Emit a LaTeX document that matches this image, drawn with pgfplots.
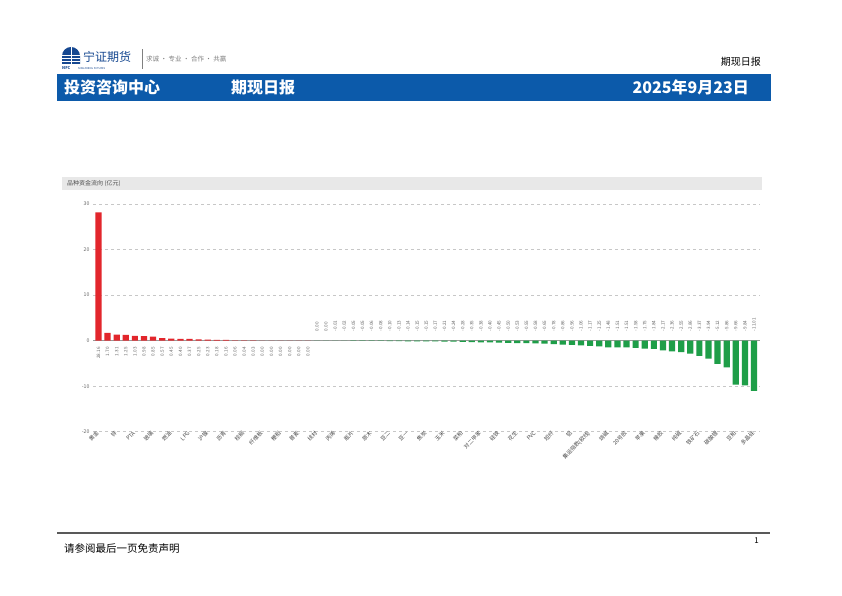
\documentclass[border=0pt]{standalone}
\usepackage{pgfplots}
\pgfplotsset{compat=1.18}
\usepackage{pgfplotstable}
\usepackage{fontspec}
\setmainfont{Noto Sans CJK SC}
\definecolor{bannerblue}{RGB}{12,90,170}
\definecolor{barred}{RGB}{226,38,44}
\definecolor{bargreen}{RGB}{30,158,72}
\definecolor{logoblue}{RGB}{22,72,145}

\pgfplotstableread{
idx val zero lab
0 28.16 0 28.16
1 1.70 0 1.70
2 1.31 0 1.31
3 1.25 0 1.25
4 1.03 0 1.03
5 0.98 0 0.98
6 0.85 0 0.85
7 0.57 0 0.57
8 0.45 0 0.45
9 0.40 0 0.40
10 0.37 0 0.37
11 0.25 0 0.25
12 0.23 0 0.23
13 0.18 0 0.18
14 0.16 0 0.16
15 0.06 0 0.06
16 0.04 0 0.04
17 0.03 0 0.03
18 0.004 0 0.00
19 0.003 0 0.00
20 0.002 0 0.00
21 0.001 0 0.00
22 0.001 0 0.00
23 0.001 0 0.00
}\postable

\pgfplotstableread{
idx val zero lab
24 -0.001 0 0.00
25 -0.002 0 0.00
26 -0.01 0 -0.01
27 -0.02 0 -0.02
28 -0.05 0 -0.05
29 -0.05 0 -0.05
30 -0.06 0 -0.06
31 -0.08 0 -0.08
32 -0.10 0 -0.10
33 -0.13 0 -0.13
34 -0.14 0 -0.14
35 -0.15 0 -0.15
36 -0.15 0 -0.15
37 -0.17 0 -0.17
38 -0.21 0 -0.21
39 -0.24 0 -0.24
40 -0.28 0 -0.28
41 -0.35 0 -0.35
42 -0.38 0 -0.38
43 -0.40 0 -0.40
44 -0.45 0 -0.45
45 -0.50 0 -0.50
46 -0.53 0 -0.53
47 -0.55 0 -0.55
48 -0.58 0 -0.58
49 -0.65 0 -0.65
50 -0.78 0 -0.78
51 -0.86 0 -0.86
52 -0.96 0 -0.96
53 -1.06 0 -1.06
54 -1.17 0 -1.17
55 -1.25 0 -1.25
56 -1.48 0 -1.48
57 -1.51 0 -1.51
58 -1.51 0 -1.51
59 -1.58 0 -1.58
60 -1.75 0 -1.75
61 -1.84 0 -1.84
62 -2.17 0 -2.17
63 -2.36 0 -2.36
64 -2.55 0 -2.55
65 -2.86 0 -2.86
66 -3.37 0 -3.37
67 -3.94 0 -3.94
68 -5.12 0 -5.12
69 -5.86 0 -5.86
70 -9.66 0 -9.66
71 -9.84 0 -9.84
72 -11.01 0 -11.01
}\negtable

\begin{document}
\begin{tikzpicture}[x=1pt,y=1pt]
\fill[white] (0,0) rectangle (842,596);
% logo
\fill[logoblue] (62,532) -- (62,540) arc (180:0:9) -- (80,532) -- cycle;
\foreach \yy in {535,538,541}{\draw[white,line width=0.7pt] (62,\yy) -- (80,\yy);}
\draw[white,line width=1pt] (71,532) -- (71,549);
\node[anchor=west,inner sep=0pt,text=logoblue,font=\fontsize{4}{4}\selectfont\bfseries] at (62,527.5) {NFC};
\node[anchor=west,inner sep=0pt,text=logoblue,font=\fontsize{12}{12}\selectfont] at (83,539.5) {宁证期货};
\node[anchor=west,inner sep=0pt,text=logoblue,font=\fontsize{2.6}{3}\selectfont] at (78,527.5) {NINGZHENG FUTURES};
\draw[gray,line width=0.4pt] (142.5,527) -- (142.5,547);
\node[anchor=west,inner sep=0pt,text=gray,font=\fontsize{6.5}{7}\selectfont] at (146,537) {求诚 · 专业 · 合作 · 共赢};
\node[anchor=east,inner sep=0pt,font=\fontsize{10}{10}\selectfont] at (761,534) {期现日报};
% banner
\fill[bannerblue] (57,495) rectangle (771,522);
\node[anchor=west,inner sep=0pt,text=white,font=\fontsize{16}{16}\selectfont\bfseries] at (64,508.5) {投资咨询中心};
\node[anchor=west,inner sep=0pt,text=white,font=\fontsize{16}{16}\selectfont\bfseries] at (231,508.5) {期现日报};
\node[anchor=east,inner sep=0pt,text=white,font=\fontsize{16}{16}\selectfont\bfseries] at (749,508.5) {2025年9月23日};
% chart title bar
\fill[gray!18] (62,406) rectangle (762,419);
\node[anchor=west,inner sep=0pt,text=black!70,font=\fontsize{6}{6}\selectfont] at (67,412.5) {品种资金流向 (亿元)};
% footer
\draw[line width=1.2pt,black!65] (57,63) -- (770,63);
\node[anchor=east,inner sep=0pt,font=\fontsize{8}{8}\selectfont] at (759,55) {1};
\node[anchor=west,inner sep=0pt,font=\fontsize{10.5}{10.5}\selectfont] at (64,47) {请参阅最后一页免责声明};

\begin{axis}[
  at={(93pt,164.3pt)}, anchor=south west, scale only axis,
  width=667pt, height=227.7pt,
  xmin=-0.6, xmax=72.66, ymin=-20, ymax=30,
  axis line style={draw=none},
  major tick length=0pt,
  ytick={-20,-10,0,10,20,30},
  ymajorgrids, grid style={dashed, black!22, line width=0.4pt},
  /pgf/number format/assume math mode=true,
  yticklabel style={font=\fontsize{5.2}{5.2}\selectfont, text=black!60},
  xtick={0,2,...,72},
  xticklabels={黄金,锌,PTA,玻璃,燃油,LPG,沪镍,沥青,棕榈,纤维板,粳稻,普麦,线材,丙烯,瓶片,原木,豆二,豆一,焦炭,玉米,菜粕,对二甲苯,硅铁,花生,PVC,短纤,铝,集运指数(欧线),烧碱,20号胶,苹果,橡胶,纯碱,铁矿石,碳酸锂,豆粕,多晶硅},
  xticklabel style={rotate=45, anchor=east, font=\fontsize{5.4}{5.4}\selectfont, text=black!70, inner sep=1pt},
  clip=false,
]
\draw[black!40, line width=0.5pt] (axis cs:-0.6,0) -- (axis cs:72.66,0);
\addplot[ybar, bar width=6.2pt, fill=barred, draw=none] table[x=idx, y=val] {\postable};
\addplot[ybar, bar width=6.2pt, fill=bargreen, draw=none] table[x=idx, y=val] {\negtable};
\addplot[draw=none, mark=none, point meta=explicit symbolic, nodes near coords,
  every node near coord/.style={rotate=90, anchor=east, inner sep=0.5pt, outer sep=6pt, font=\fontsize{4.6}{4.6}\selectfont, text=black!60}]
  table[x=idx, y=zero, meta=lab] {\postable};
\addplot[draw=none, mark=none, point meta=explicit symbolic, nodes near coords,
  every node near coord/.style={rotate=90, anchor=west, inner sep=0.5pt, outer sep=9pt, font=\fontsize{4.6}{4.6}\selectfont, text=black!60}]
  table[x=idx, y=zero, meta=lab] {\negtable};
\end{axis}
\end{tikzpicture}
\end{document}
